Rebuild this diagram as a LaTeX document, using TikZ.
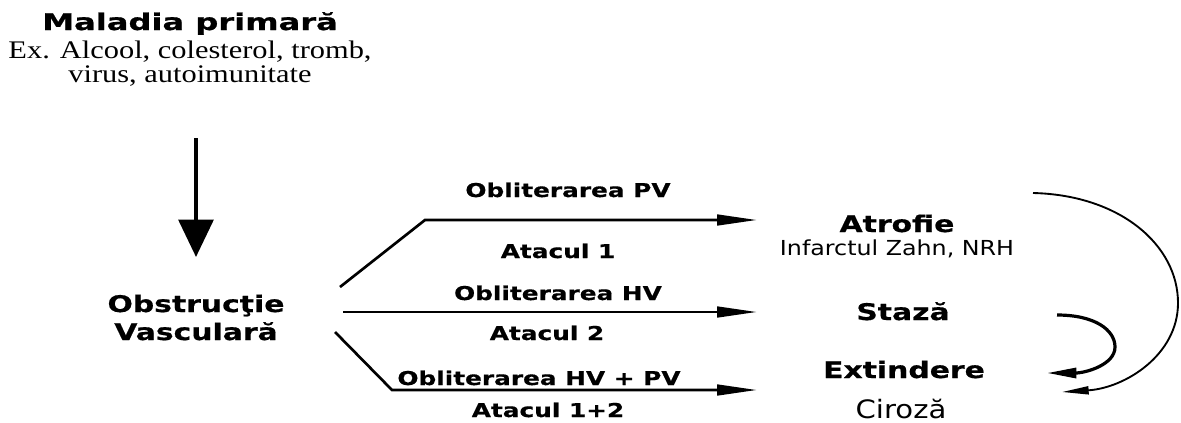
\documentclass[tikz,border=0pt]{standalone}
\usepackage{fontspec}
\setmainfont{Liberation Serif}[FakeStretch=1.2]
\newfontfamily\vb{DejaVu Sans Bold}[FakeStretch=1.3,FakeBold=0.6]
\newfontfamily\vbt{DejaVu Sans Bold}[FakeStretch=1.4,FakeBold=0.8]
\newfontfamily\vreg{DejaVu Sans}[FakeStretch=1.15]
\usetikzlibrary{arrows.meta}
\begin{document}
\begin{tikzpicture}[x=0.75pt,y=-0.75pt,
  every node/.style={inner sep=0pt,anchor=base},
  titlet/.style={font=\vbt\fontsize{17.2}{20}\selectfont},
  bigt/.style={font=\vb\fontsize{17.2}{20}\selectfont},
  lblt/.style={font=\vb\fontsize{14.3}{17}\selectfont},
  regt/.style={font=\vreg\fontsize{15.5}{18}\selectfont},
  cirt/.style={font=\vreg\fontsize{19}{22}\selectfont},
  sert/.style={font=\fontsize{19}{22}\selectfont},
  conn/.style={line width=2pt,-{Triangle[length=30pt,width=8pt]}},
  arc/.style={line width=1.4pt,-{Triangle[length=20pt,width=6pt]}},
  arcb/.style={line width=2.4pt,-{Triangle[length=22pt,width=7.5pt]}},
  downarrow/.style={line width=3pt,-{Triangle[length=28pt,width=26pt]}}]
\useasboundingbox (0,0) rectangle (1181,422);
% texts
\node[titlet] (mal) at (190,30) {Maladia primară};
\node[sert] (ex1) at (190,58) {Ex. Alcool, colesterol, tromb,};
\node[sert] (ex2) at (190,82) {virus, autoimunitate};
\node[bigt] (obs1) at (196,312) {Obstrucţie};
\node[bigt] (obs2) at (196,340) {Vasculară};
\node[lblt] (lpv) at (568,197) {Obliterarea PV};
\node[lblt] (la1) at (558,258) {Atacul 1};
\node[lblt] (lhv) at (558,300) {Obliterarea HV};
\node[lblt] (la2) at (547,340) {Atacul 2};
\node[lblt] (lhp) at (539,385) {Obliterarea HV + PV};
\node[lblt] (la12) at (548,417) {Atacul 1+2};
\node[bigt] (atr) at (897,232) {Atrofie};
\node[regt] (inf) at (897,255) {Infarctul Zahn, NRH};
\node[bigt] (sta) at (903,320) {Stază};
\node[bigt] (ext) at (904,378) {Extindere};
\node[cirt] (cir) at (901,418) {Ciroză};
% connector coordinates
\coordinate (dtop) at (196,138);
\coordinate (dbot) at (196,257);
\coordinate (pvs) at (340,287);
\coordinate (pvk) at (425,220);
\coordinate (pve) at (757,220);
\coordinate (hvs) at (343,312);
\coordinate (hve) at (757,312);
\coordinate (hps) at (335,332);
\coordinate (hpk) at (392,390);
\coordinate (hpe) at (757,390);
\coordinate (bas) at (1033,193);
\coordinate (bam) at (1178,303);
\coordinate (bae) at (1062,392);
\coordinate (sas) at (1057,315);
\coordinate (sam) at (1115,347);
\coordinate (sae) at (1047,373);
% connectors
\draw[downarrow] (dtop) -- (dbot);
\draw[conn] (pvs) -- (pvk) -- (pve);
\draw[conn] (hvs) -- (hve);
\draw[conn] (hps) -- (hpk) -- (hpe);
\draw[arc] (bas) .. controls (1120,195) and (1178,245) .. (bam) .. controls (1178,355) and (1125,388) .. (bae);
\draw[arcb] (sas) .. controls (1095,315) and (1115,330) .. (sam) .. controls (1115,365) and (1085,373) .. (sae);
\end{tikzpicture}
\end{document}
